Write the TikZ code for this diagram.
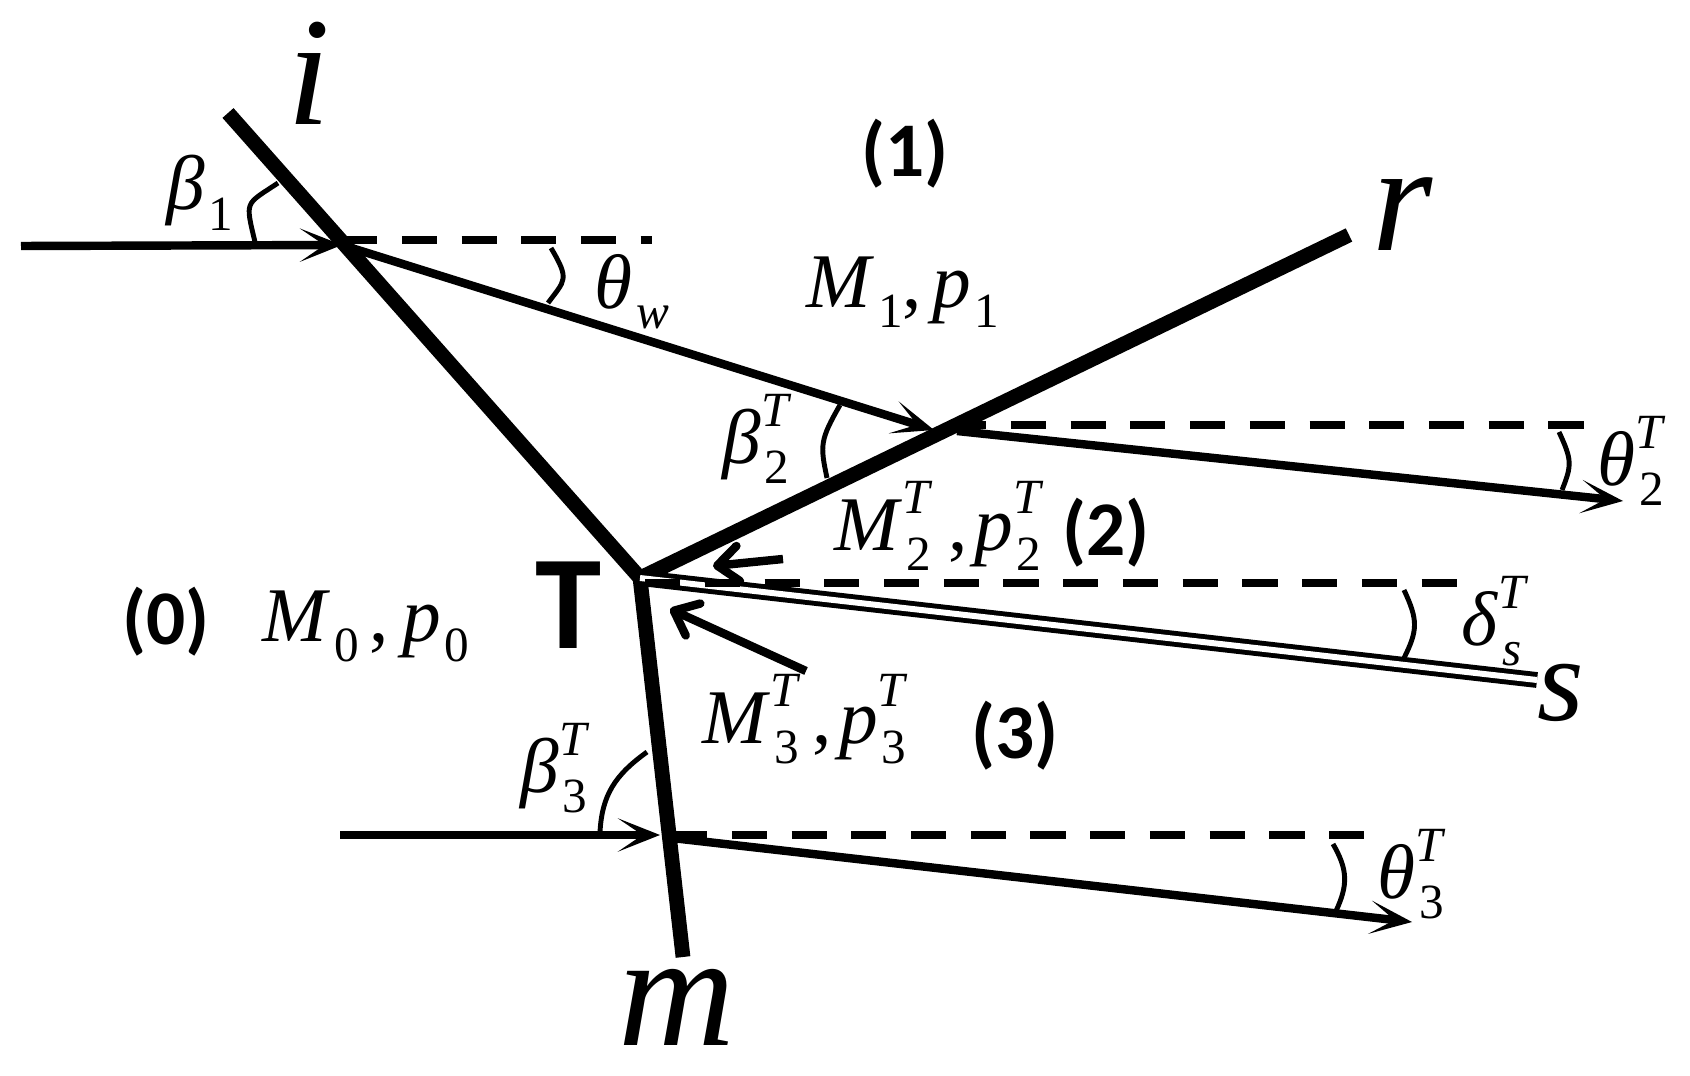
\documentclass[tikz,border=0pt]{standalone}
\usepackage{fontspec}
\setmainfont{Liberation Serif}
\newfontfamily\calibrifont{Carlito}
\usetikzlibrary{arrows.meta}
\newcommand{\symb}[3]{\textit{#1}\rlap{\raisebox{10.5pt}{\fontsize{14}{14}\selectfont\textit{#2}}}\hspace{1pt}\raisebox{-5.7pt}{\fontsize{14}{14}\selectfont #3}}
\tikzset{
  wave/.style={line width=4.2pt},
  ray/.style={line width=2.4pt,->,>={Stealth[length=12pt,width=9.5pt,inset=7pt]}},
  toT/.style={line width=2.4pt,->,>={Straight Barb[round,length=6pt,width=10pt,line width=2.4pt]}},
  level/.style={line width=2.3pt,dash pattern=on 10pt off 7pt},
  slip/.style={line width=1.4pt,double,double distance=1.7pt},
  anglearc/.style={line width=1.4pt},
  mach/.style={inner sep=0pt,anchor=base west,font=\fontsize{22}{24}\selectfont},
  bigsym/.style={inner sep=0pt,anchor=base,font=\fontsize{44}{48}\selectfont\itshape},
  region/.style={inner sep=0pt,font=\fontsize{22}{24}\selectfont\calibrifont\bfseries},
}

\begin{document}
\begin{tikzpicture}[x=0.1mm,y=-0.1mm]
  \useasboundingbox (0,0) rectangle (1690,1076);
  % points on the shocks
  \coordinate (I) at (342,245);
  \coordinate (R-in) at (934,430);
  \coordinate (R-out) at (957,431);
  \coordinate (T) at (640,578);
  \coordinate (M-in) at (660,835);
  \coordinate (M-out) at (672,838);
  \coordinate (i-end) at (228,113);
  \coordinate (r-end) at (1349,235);
  \coordinate (m-end) at (683,957);
  \coordinate (s-end) at (1537,680);
  % shocks
  \draw[wave] (i-end) -- (T);
  \draw[wave] (r-end) -- (T);
  \draw[wave] (m-end) -- (T);
  \draw[slip] (T) -- (s-end);
  % streamlines
  \coordinate (in-1) at (21,246);
  \coordinate (in-3) at (340,835);
  \coordinate (tip-2) at (1623,501);
  \coordinate (tip-3) at (1412,922);
  \draw[ray] (in-1) -- (I);
  \draw[ray] (I) -- (R-in);
  \draw[ray] (R-out) -- (tip-2);
  \draw[ray] (in-3) -- (M-in);
  \draw[ray] (M-out) -- (tip-3);
  % horizontal references
  \coordinate (dash-1) at (652,240);
  \coordinate (dash-2s) at (951,425);
  \coordinate (dash-2) at (1586,425);
  \coordinate (dash-ss) at (645,583);
  \coordinate (dash-s) at (1460,583);
  \coordinate (dash-3s) at (672,835);
  \coordinate (dash-3) at (1365,835);
  \draw[level] (I |- dash-1) -- (dash-1);
  \draw[level] (dash-2s) -- (dash-2);
  \draw[level] (dash-ss) -- (dash-s);
  \draw[level] (dash-3s) -- (dash-3);
  % small arrows towards T
  \coordinate (a2-tail) at (783,559);
  \coordinate (a2-tip) at (713,566);
  \coordinate (a3-tail) at (806,671);
  \coordinate (a3-tip) at (670,609);
  \draw[toT] (a2-tail) -- (a2-tip);
  \draw[toT] (a3-tail) -- (a3-tip);
  % angles
  \draw[anglearc] (255,242) .. controls (245,200) and (245,205) .. (278,183);
  \draw[anglearc] (551,248) .. controls (570,280) and (565,280) .. (548,303);
  \draw[anglearc] (840,405) .. controls (820,440) and (820,445) .. (827,478);
  \draw[anglearc] (1559,432) .. controls (1572,460) and (1572,465) .. (1562,490);
  \draw[anglearc] (1404,590) .. controls (1418,620) and (1418,630) .. (1404,658);
  \draw[anglearc] (647,752) .. controls (615,775) and (602,795) .. (600,832);
  \draw[anglearc] (1333,844) .. controls (1348,870) and (1348,885) .. (1336,911);
  % labels
  \node[bigsym] (i) at (309,125) {i};
  \node[bigsym] (r) at (1403,250) {r};
  \node[bigsym,font=\fontsize{46}{48}\selectfont\itshape] (m) at (677,1045) {m};
  \node[bigsym,font=\fontsize{34}{36}\selectfont\itshape] (s) at (1561,720) {s};
  \node[mach] (beta-1) at (166,210) {\symb{β}{}{1}};
  \node[mach] (theta-w) at (594,308) {\symb{θ}{}{\textit{w}}};
  \node[mach] (state-1) at (806,307) {\symb{M}{}{1}\hspace{0pt},\hspace{3pt}\symb{p}{}{1}};
  \node[mach] (beta-2) at (722,463) {\symb{β}{T}{2}};
  \node[mach] (theta-2) at (1597,485) {\symb{θ}{T}{2}};
  \node[mach] (state-2) at (834,550) {\symb{M}{T}{2}\hspace{5pt},\hspace{2pt}\symb{p}{T}{2}};
  \node[mach] (delta-s) at (1461,645) {\symb{δ}{T}{\textit{s}}};
  \node[mach] (state-0) at (262,641) {\symb{M}{}{0}\hspace{3pt},\hspace{4pt}\symb{p}{}{0}};
  \node[mach] (state-3) at (702,743) {\symb{M}{T}{3}\hspace{4pt},\hspace{2pt}\symb{p}{T}{3}};
  \node[mach] (beta-3) at (520,792) {\symb{β}{T}{3}};
  \node[mach] (theta-3) at (1377,898) {\symb{θ}{T}{3}};
  \foreach \name/\x/\y in {1/905/154,2/1106/533,3/1015/736,0/166/622}{
    \node[region] (region-\name) at (\x,\y) {(\name)};
  }
  \node[inner sep=0pt,anchor=base,font=\fontsize{38}{40}\selectfont\calibrifont\bfseries] (triple) at (569,648) {T};
\end{tikzpicture}
\end{document}
